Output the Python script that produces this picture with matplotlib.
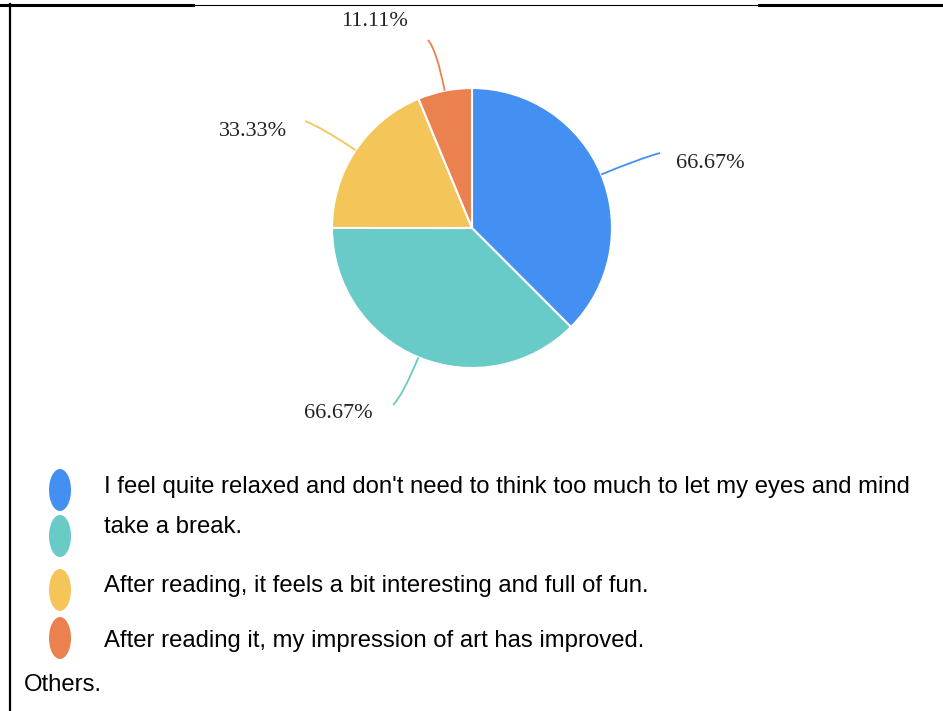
import numpy as np
import matplotlib.pyplot as plt
from matplotlib.patches import Ellipse
from matplotlib.path import Path
from matplotlib.patches import PathPatch

# survey answers (share of respondents, multi-select)
values = [66.67, 66.67, 33.33, 11.11]
pct_labels = ['66.67%', '66.67%', '33.33%', '11.11%']
colors = ['#4390f2', '#69cbc8', '#f4c65a', '#ec8150']
legend_text = [
    "I feel quite relaxed and don't need to think too much to let my eyes and mind",
    "take a break.",
    "After reading, it feels a bit interesting and full of fun.",
    "After reading it, my impression of art has improved.",
    "Others.",
]

W, H = 943, 711
fig = plt.figure(figsize=(W / 100, H / 100), dpi=100)
ax = fig.add_axes([0, 0, 1, 1])

cx, cy, r = 472, H - 228, 140
wedges, _ = ax.pie(values, colors=colors, startangle=90, counterclock=False,
                   center=(cx, cy), radius=r, frame=True,
                   wedgeprops=dict(edgecolor='white', linewidth=1.5))
ax.set_xlim(0, W)
ax.set_ylim(0, H)
ax.set_aspect('equal')
ax.axis('off')

# curved leader lines and percentage labels
label_end = [(660, 153), (393, 405), (305, 121), (428, 40)]
label_pos = [(676, 163, 'left'), (373, 413, 'right'), (287, 131, 'right'), (408, 21, 'right')]
for w, c, lab, (ex, ey), (tx, ty, ha) in zip(wedges, colors, pct_labels, label_end, label_pos):
    mid = np.deg2rad((w.theta1 + w.theta2) / 2)
    p0 = (cx + r * np.cos(mid), cy + r * np.sin(mid))
    p1 = (cx + (r + 42) * np.cos(mid), cy + (r + 42) * np.sin(mid))
    p2 = (ex, H - ey)
    path = Path([p0, p1, p2], [Path.MOVETO, Path.CURVE3, Path.CURVE3])
    ax.add_patch(PathPatch(path, fill=False, edgecolor=c, linewidth=1.3))
    ax.text(tx, H - ty, lab, ha=ha, va='center', fontsize=16,
            family='Liberation Serif', color='#222222')

# legend markers and texts
marker_y = [490, 536, 590, 638]
for y, c in zip(marker_y, colors):
    ax.add_patch(Ellipse((60, H - y), 22, 42, facecolor=c, edgecolor='none'))

text_rows = [(104, 487), (104, 527), (104, 586), (104, 641), (24, 685)]
for (x, y), t in zip(text_rows, legend_text):
    ax.text(x, H - y, t, ha='left', va='center', fontsize=17.2,
            family='Liberation Sans', color='black')

# frame lines
ax.plot([10, 10], [0, H - 4], color='black', linewidth=1.6)
ax.plot([0, 193], [H - 5, H - 5], color='black', linewidth=2.2)
ax.plot([193, 759], [H - 5, H - 5], color='black', linewidth=0.8)
ax.plot([759, W], [H - 5, H - 5], color='black', linewidth=2.2)

fig.savefig('out.png', dpi=100)
